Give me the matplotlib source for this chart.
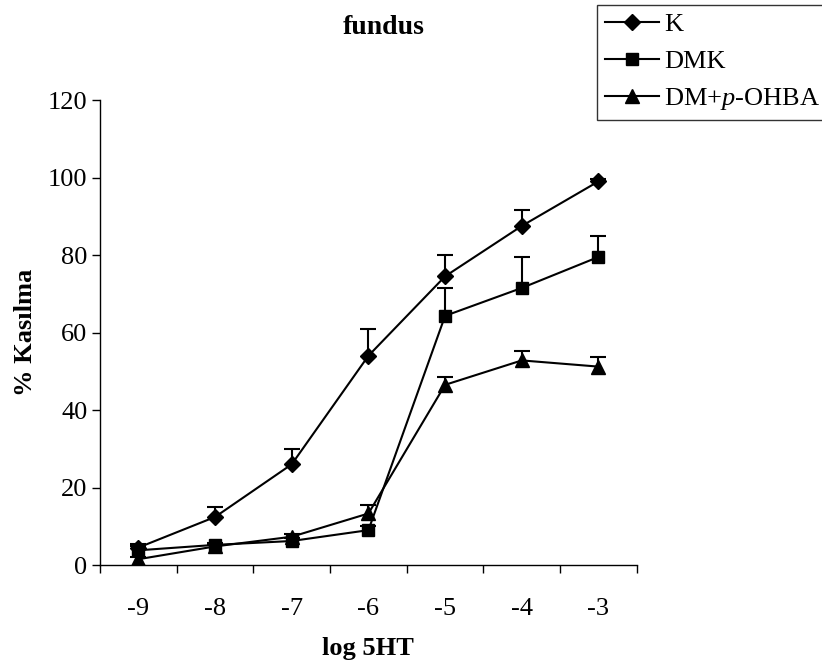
import numpy as np
import matplotlib
matplotlib.use("Agg")
from matplotlib import pyplot as plt

plt.rcParams['font.family'] = ['Liberation Serif', 'DejaVu Serif']
plt.rcParams['mathtext.fontset'] = 'custom'
plt.rcParams['mathtext.it'] = 'Liberation Serif:italic'
plt.rcParams['mathtext.rm'] = 'Liberation Serif'

# data
doses = ['-9', '-8', '-7', '-6', '-5', '-4', '-3']
k_vals = [4.5, 12.4, 26.0, 54.0, 74.5, 87.5, 99.0]
k_err = [0.8, 2.6, 4.0, 7.0, 5.5, 4.0, 0.6]
dmk_vals = [3.8, 5.2, 6.2, 9.0, 64.3, 71.5, 79.5]
dmk_err = [1.2, 0.5, 0.8, 1.0, 7.2, 8.0, 5.5]
ohba_vals = [1.5, 4.8, 7.3, 13.3, 46.5, 52.8, 51.2]
ohba_err = [0.5, 0.5, 0.7, 2.2, 2.0, 2.5, 2.6]
labels = ['K', 'DMK', r'DM+$\it{p}$-OHBA']

fig = plt.figure(figsize=(8.22, 6.61), dpi=100)
ax = fig.add_axes([0.1217, 0.1452, 0.653, 0.7035])

x = np.arange(len(doses))
series = [(k_vals, k_err, 'D', 8.5), (dmk_vals, dmk_err, 's', 8), (ohba_vals, ohba_err, '^', 10)]
handles = []
for (vals, err, mk, ms), lab in zip(series, labels):
    top = np.array(vals) + np.array(err)
    # upper error bars only
    ax.vlines(x, vals, top, colors='black', lw=1.5)
    ax.plot(x, top, ls='none', marker='_', markersize=12, markeredgewidth=1.5, color='black')
    h, = ax.plot(x, vals, color='black', lw=1.5, marker=mk, markersize=ms,
                 markerfacecolor='black', markeredgecolor='black', label=lab)
    handles.append(h)

ax.set_xlim(-0.5, len(doses) - 0.5)
ax.set_ylim(0, 120)
ax.set_yticks(range(0, 121, 20))
ax.set_xticks(x)
ax.set_xticklabels(doses)
ax.set_xticks(np.arange(-0.5, len(doses)), minor=True)
ax.tick_params(axis='x', which='major', length=0, labelsize=19, pad=24)
ax.tick_params(axis='x', which='minor', length=6, width=1, direction='out')
ax.tick_params(axis='y', length=6, width=1, direction='out', labelsize=19, pad=3)
for s in ['top', 'right']:
    ax.spines[s].set_visible(False)
for s in ['left', 'bottom']:
    ax.spines[s].set_linewidth(1)

ax.set_xlabel('log 5HT', fontsize=19, fontweight='bold', labelpad=12)
ax.set_ylabel('% Kasılma', fontsize=19, fontweight='bold', labelpad=8)
fig.text(384 / 822, 1 - 27 / 661, 'fundus', fontsize=20, fontweight='bold',
         ha='center', va='center')

leg = fig.legend(handles=handles, loc='upper left', bbox_to_anchor=(597 / 822, 1 - 5 / 661),
                 fontsize=19, frameon=True, fancybox=False, handlelength=2.05,
                 handletextpad=0.2, labelspacing=0.5, borderpad=0.3,
                 borderaxespad=0)
leg.get_frame().set_edgecolor('black')
leg.get_frame().set_linewidth(1)

fig.savefig('out.png', dpi=100)
